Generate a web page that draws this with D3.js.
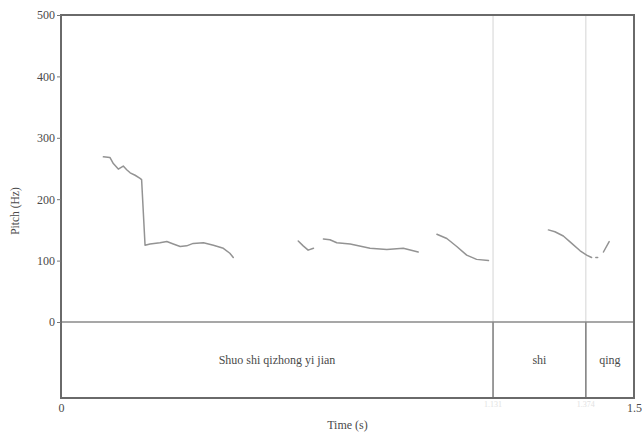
<!DOCTYPE html>
<html>
<head>
<meta charset="utf-8">
<script src="https://cdn.jsdelivr.net/npm/d3@7"></script>
<style>
  body { margin: 0; background: #fff; }
  svg { display: block; }
  svg text { font-family: "Liberation Serif", "DejaVu Serif", serif; }
</style>
</head>
<body>
<svg id="chart" width="642" height="433"></svg>
<script>
// pitch contour pieces, [time (s), pitch (Hz)]
const pitchSegments = [
  [[0.111, 269], [0.128, 268], [0.137, 258], [0.150, 249], [0.163, 254], [0.172, 248],
   [0.181, 243], [0.194, 239], [0.207, 234], [0.211, 232], [0.220, 125], [0.233, 127],
   [0.259, 129], [0.277, 131], [0.294, 127], [0.312, 123], [0.329, 124], [0.346, 128],
   [0.373, 129], [0.399, 125], [0.425, 120], [0.442, 112], [0.451, 105]],
  [[0.621, 132], [0.634, 124], [0.647, 117], [0.661, 120]],
  [[0.687, 135], [0.704, 134], [0.722, 129], [0.757, 127], [0.809, 120], [0.853, 118],
   [0.896, 120], [0.922, 116], [0.935, 114]],
  [[0.984, 143], [1.010, 136], [1.036, 123], [1.062, 109], [1.088, 102], [1.119, 100]],
  [[1.276, 150], [1.293, 147], [1.315, 140], [1.337, 128], [1.359, 116], [1.376, 109], [1.389, 105]],
  [[1.400, 105], [1.405, 105]],
  [[1.420, 114], [1.435, 131]]
];

const boundaries = [1.131, 1.374];
const intervals = [
  { label: "Shuo shi qizhong yi jian", start: 0, end: 1.131 },
  { label: "shi", start: 1.131, end: 1.374 },
  { label: "qing", start: 1.374, end: 1.5 }
];
const pitchTicks = [0, 100, 200, 300, 400, 500];
const timeTicks = [0, 1.5];

const box = { left: 61, right: 634, top: 15, zero: 322, bottom: 398 };
const textColor = "#4a4a4a";
const svg = d3.select("#chart");

const x = d3.scaleLinear().domain([0, 1.5]).range([box.left, box.right]);
const y = d3.scaleLinear().domain([0, 500]).range([box.zero, box.top]);

// boundaries in the pitch area (faint) and in the tier (darker)
svg.append("g").selectAll("line").data(boundaries).join("line")
  .attr("x1", (d) => x(d)).attr("x2", (d) => x(d))
  .attr("y1", box.top).attr("y2", box.zero)
  .attr("stroke", "#d4d4d4").attr("stroke-width", 1);
svg.append("g").selectAll("line").data(boundaries).join("line")
  .attr("x1", (d) => x(d)).attr("x2", (d) => x(d))
  .attr("y1", box.zero).attr("y2", box.bottom)
  .attr("stroke", "#7a7a7a").attr("stroke-width", 1.5);

// faint boundary times under the frame
svg.append("g").selectAll("text").data(boundaries).join("text")
  .attr("x", (d) => x(d)).attr("y", 407)
  .attr("text-anchor", "middle").attr("font-size", 8).attr("fill", "#e2e2e2")
  .text((d) => d.toFixed(3));

// pitch contour
const line = d3.line().x((d) => x(d[0])).y((d) => y(d[1]));
svg.append("g").selectAll("path").data(pitchSegments).join("path")
  .attr("d", line)
  .attr("fill", "none")
  .attr("stroke", "#939393")
  .attr("stroke-width", 1.5)
  .attr("stroke-linejoin", "round")
  .attr("stroke-linecap", "round");

// tier separator at 0 Hz
svg.append("line")
  .attr("x1", box.left).attr("x2", box.right).attr("y1", box.zero).attr("y2", box.zero)
  .attr("stroke", "#8a8a8a").attr("stroke-width", 1.5);

// frame
svg.append("rect")
  .attr("x", box.left).attr("y", box.top)
  .attr("width", box.right - box.left).attr("height", box.bottom - box.top)
  .attr("fill", "none").attr("stroke", "#6a6a6a").attr("stroke-width", 2);

// y axis
const yAxis = svg.append("g")
  .attr("transform", `translate(${box.left},0)`)
  .call(d3.axisLeft(y).tickValues(pitchTicks).tickSize(4).tickPadding(2).tickFormat(d3.format("d")));
yAxis.attr("font-family", "Liberation Serif").attr("font-size", 12);
yAxis.select(".domain").remove();
yAxis.selectAll("line").attr("stroke", "#777");
yAxis.selectAll("text").attr("fill", textColor);

// x axis labels
const xAxis = svg.append("g")
  .attr("transform", `translate(0,${box.bottom})`)
  .call(d3.axisBottom(x).tickValues(timeTicks).tickSize(0).tickPadding(5).tickFormat((d) => d));
xAxis.attr("font-family", "Liberation Serif").attr("font-size", 12);
xAxis.select(".domain").remove();
xAxis.selectAll("text").attr("fill", textColor);

// tier labels
svg.append("g").selectAll("text").data(intervals).join("text")
  .attr("x", (d) => x((d.start + d.end) / 2))
  .attr("y", 364)
  .attr("text-anchor", "middle")
  .attr("font-size", 12)
  .attr("fill", textColor)
  .text((d) => d.label);

svg.append("text")
  .attr("x", (box.left + box.right) / 2).attr("y", 429)
  .attr("text-anchor", "middle").attr("font-size", 12).attr("fill", textColor)
  .text("Time (s)");

svg.append("text")
  .attr("transform", "translate(19,211) rotate(-90)")
  .attr("text-anchor", "middle").attr("font-size", 11.5).attr("fill", textColor)
  .text("Pitch (Hz)");
</script>
</body>
</html>
